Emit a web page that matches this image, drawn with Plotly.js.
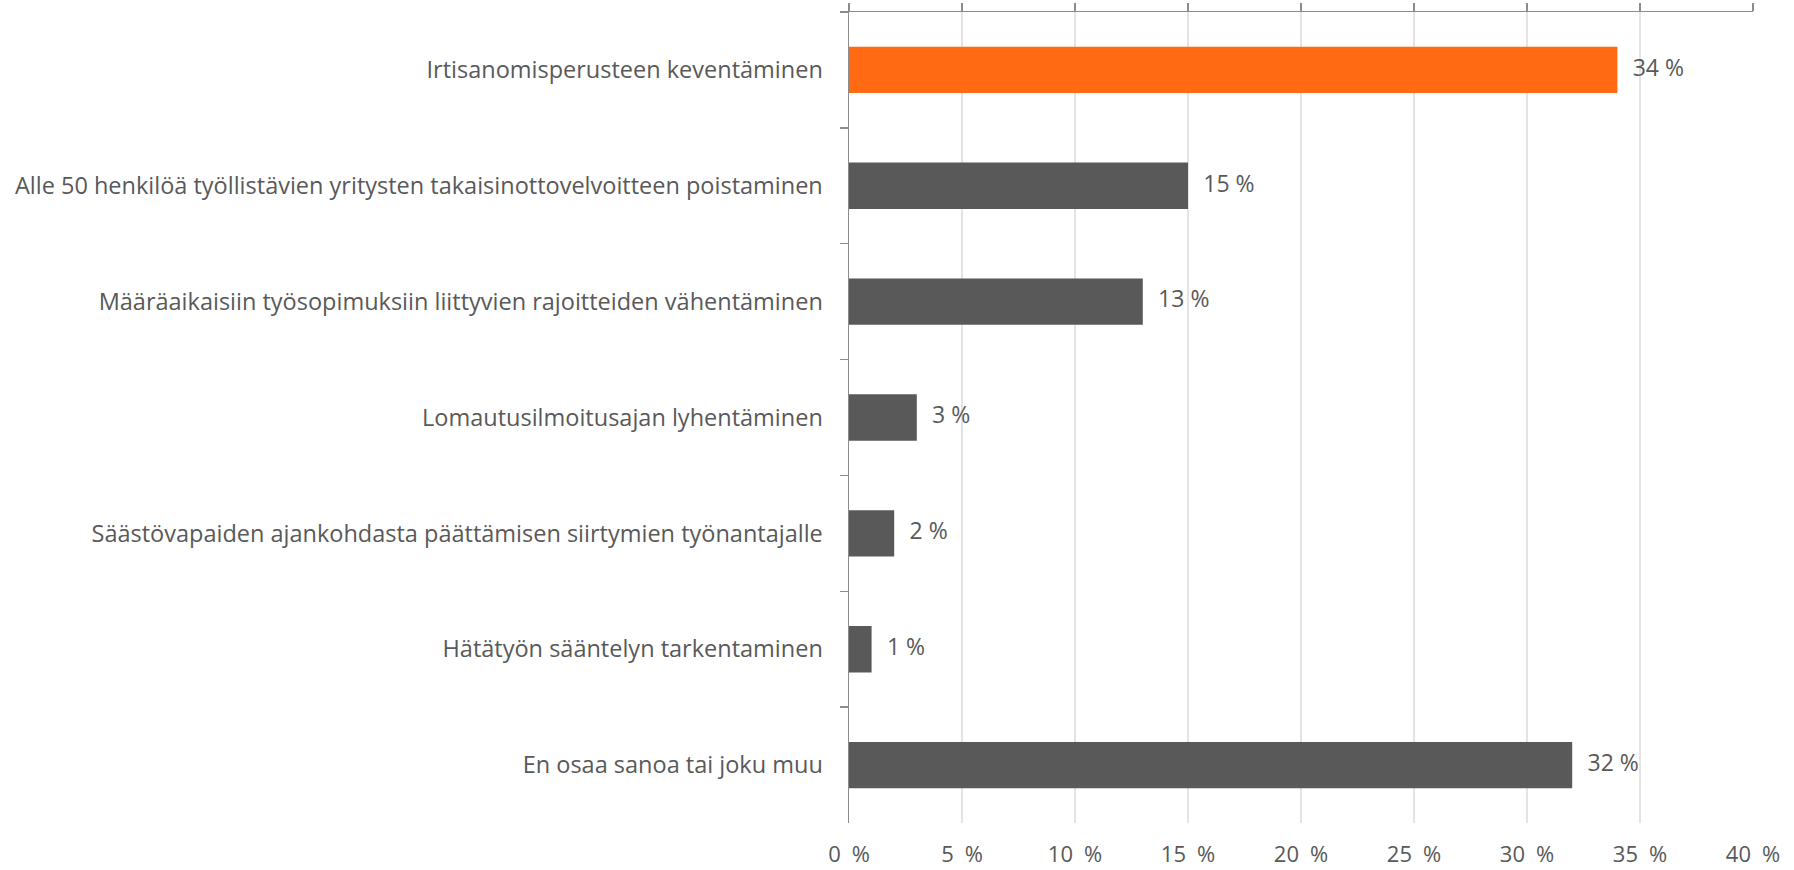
<!DOCTYPE html>
<html>
<head>
<meta charset="utf-8">
<script src="https://cdn.plot.ly/plotly-3.0.1.min.js"></script>
<style>html,body{margin:0;padding:0;background:#fff;}</style>
</head>
<body>
<div id="chart" style="width:1794px;height:870px;"></div>
<script>
const categories = [
  "Irtisanomisperusteen keventäminen",
  "Alle 50 henkilöä työllistävien yritysten takaisinottovelvoitteen poistaminen",
  "Määräaikaisiin työsopimuksiin liittyvien rajoitteiden vähentäminen",
  "Lomautusilmoitusajan lyhentäminen",
  "Säästövapaiden ajankohdasta päättämisen siirtymien työnantajalle",
  "Hätätyön sääntelyn tarkentaminen",
  "En osaa sanoa tai joku muu"
];
const values = [34, 15, 13, 3, 2, 1, 32];
const barColors = ["#FF6A13", "#595959", "#595959", "#595959", "#595959", "#595959", "#595959"];
const tickValues = [0, 5, 10, 15, 20, 25, 30, 35, 40];
const tickLabels = tickValues.map(v => v + "\u2002%");

const font = "'Open Sans', sans-serif";
const textColor = "#595959";

const traces = [
  {
    type: "bar",
    orientation: "h",
    x: values,
    y: categories,
    marker: {color: barColors},
    hoverinfo: "skip",
    xaxis: "x",
    yaxis: "y"
  },
  {
    type: "scatter",
    mode: "text",
    x: values,
    y: categories,
    text: values.map(v => "\u2002\u2009" + v + " %"),
    textposition: "middle right",
    textfont: {family: font, size: 23, color: textColor},
    cliponaxis: false,
    hoverinfo: "skip",
    xaxis: "x2",
    yaxis: "y"
  }
];

const layout = {
  width: 1794,
  height: 870,
  margin: {l: 849, r: 41, t: 12, b: 47, pad: 0},
  paper_bgcolor: "#ffffff",
  plot_bgcolor: "#ffffff",
  showlegend: false,
  bargap: 0.6,
  font: {family: font, size: 23.5, color: textColor},
  xaxis: {
    range: [0, 40],
    tickmode: "array",
    tickvals: tickValues,
    ticktext: tickLabels,
    showgrid: true,
    gridcolor: "#E4E4E4",
    gridwidth: 2,
    zeroline: false,
    showline: false,
    ticks: "",
    ticklabelstandoff: 16,
    tickfont: {family: font, size: 22, color: textColor},
    side: "bottom",
    fixedrange: true
  },
  xaxis2: {
    range: [0, 40],
    overlaying: "x",
    side: "top",
    tickmode: "array",
    tickvals: tickValues,
    showticklabels: false,
    showgrid: false,
    zeroline: false,
    showline: true,
    linecolor: "#8C8C8C",
    linewidth: 1.5,
    ticks: "outside",
    ticklen: 8,
    tickcolor: "#8C8C8C",
    tickwidth: 1.5,
    fixedrange: true
  },
  yaxis: {
    autorange: "reversed",
    type: "category",
    showline: true,
    linecolor: "#8C8C8C",
    linewidth: 1.5,
    ticks: "outside",
    tickson: "boundaries",
    ticklen: 8,
    tickcolor: "#8C8C8C",
    tickwidth: 1.5,
    showgrid: false,
    zeroline: false,
    ticklabelstandoff: 20,
    tickfont: {family: font, size: 23.5, color: textColor},
    automargin: false,
    fixedrange: true
  }
};

Plotly.newPlot("chart", traces, layout, {displayModeBar: false, staticPlot: true});
</script>
</body>
</html>
